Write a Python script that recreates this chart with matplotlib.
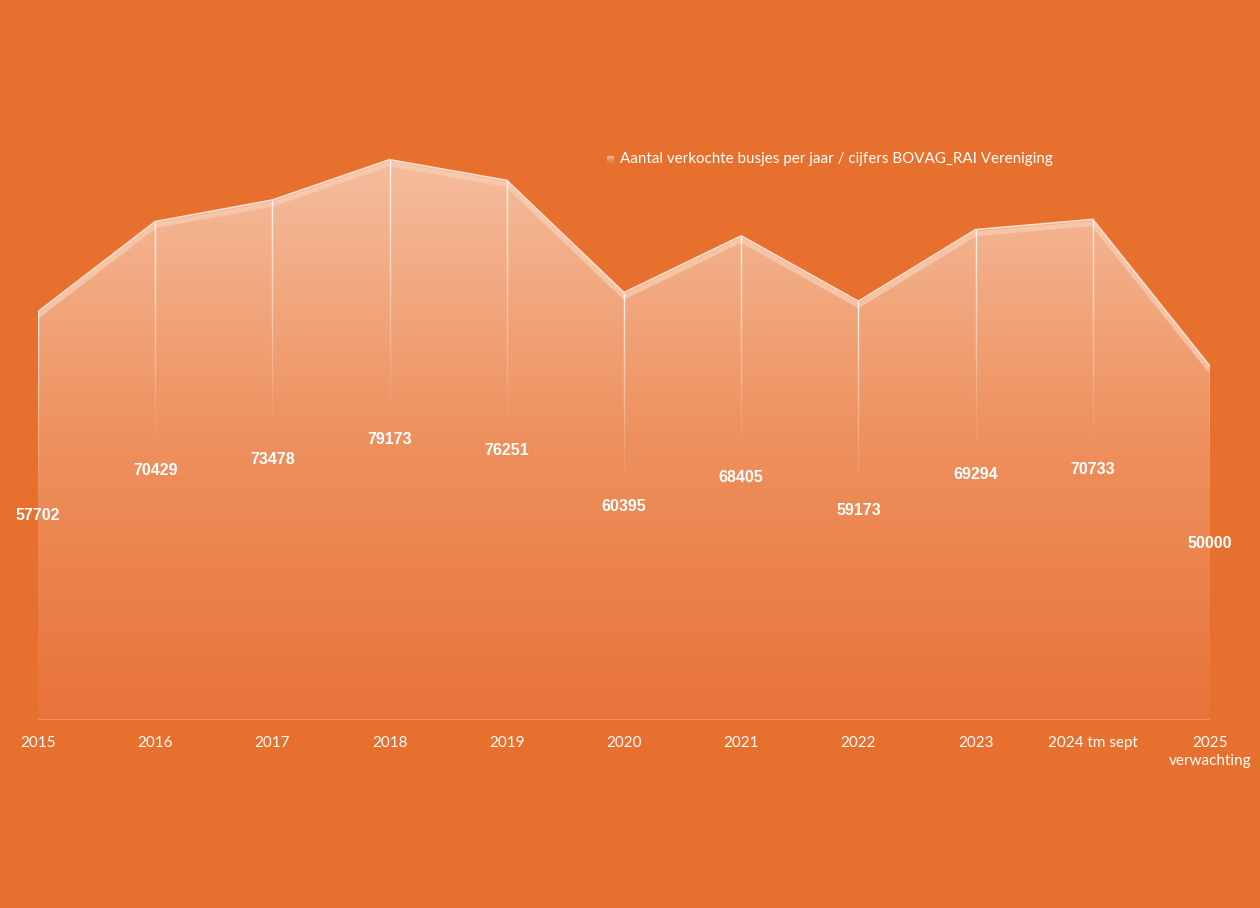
import matplotlib.pyplot as plt
import numpy as np
from matplotlib.colors import LinearSegmentedColormap
from matplotlib.patches import Polygon

# data
years = ['2015', '2016', '2017', '2018', '2019', '2020', '2021', '2022', '2023',
         '2024 tm sept', '2025\nverwachting']
sold = [57702, 70429, 73478, 79173, 76251, 60395, 68405, 59173, 69294, 70733, 50000]
legend_text = 'Aantal verkochte busjes per jaar / cijfers BOVAG_RAI Vereniging'

bg = '#E8702F'
W, H = 1260, 908
fig = plt.figure(figsize=(W / 100, H / 100), dpi=100, facecolor=bg)
# axes placed so that x=0..10 runs from px 38 to 1210 and y=0 sits at px 720
ax = fig.add_axes([38 / W, 1 - 720 / H, (1210 - 38) / W, (720 - 83) / H])
ax.set_facecolor(bg)
ax.set_xlim(0, len(years) - 1)
ax.set_ylim(0, 90000)
ax.axis('off')

x = np.arange(len(years))
y = np.array(sold)

# gradient fill clipped to the area
cmap = LinearSegmentedColormap.from_list('peach', ['#E9733A', '#EE915E', '#F5BE9F'])
grad = np.linspace(0, 1, 256).reshape(-1, 1)
poly = Polygon(np.column_stack([np.r_[x, x[-1], x[0]], np.r_[y, 0, 0]]),
               closed=True, facecolor='none', edgecolor='none')
ax.add_patch(poly)
im = ax.imshow(grad, cmap=cmap, aspect='auto', origin='lower',
               extent=[x[0], x[-1], 0, 80000], zorder=1)
im.set_clip_path(poly)

# top edge: light band + thin line
ax.plot(x, y - 600, color='#F8CDB3', lw=3.5, alpha=0.75, zorder=3, solid_capstyle='butt')
ax.plot(x, y, color='#FBE0CF', lw=1.1, zorder=4)

# baseline
ax.plot([x[0], x[-1]], [0, 0], color='#F09A6B', lw=1.2, zorder=3)

# fading drop lines from each point to its label
n = 40
for xi, yi in zip(x, y):
    ends = np.linspace(yi, yi / 2 + 1800, n + 1)
    for k in range(n):
        a = 0.9 * (1 - k / n) ** 1.3
        ax.plot([xi, xi], [ends[k], ends[k + 1]], color='white', lw=1.0,
                alpha=a, zorder=4, solid_capstyle='butt')

# value labels at half height
for xi, yi in zip(x, y):
    ax.text(xi, yi / 2, str(yi), ha='center', va='center', color='white',
            fontsize=11.5, fontweight='bold', family='Liberation Sans', zorder=5)

# category labels
for xi, lab in zip(x, years):
    ax.text(xi, -2300, lab, ha='center', va='top', color='white', fontsize=11,
            family='Lato', linespacing=1.3, clip_on=False)

# legend
leg_ax = fig.add_axes([607 / W, 1 - 163 / H, 7 / W, 7 / H])
leg_ax.imshow(grad, cmap=cmap, aspect='auto', origin='lower')
leg_ax.axis('off')
fig.text(620 / W, 1 - 159 / H, legend_text, color='white', fontsize=10.9,
         family='Lato', va='center', ha='left')

fig.savefig('out.png', dpi=100, facecolor=bg)
